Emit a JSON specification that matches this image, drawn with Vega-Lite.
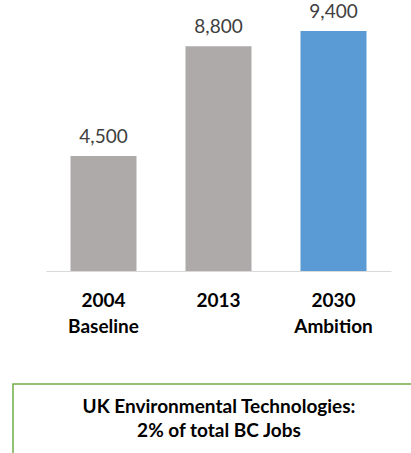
{
  "$schema": "https://vega.github.io/schema/vega-lite/v6.json",
  "padding": {"left": 12, "top": 0, "right": 0, "bottom": 0},
  "config": {"view": {"stroke": null}, "font": "Lato"},
  "spacing": 47,
  "vconcat": [
    {
      "width": 378,
      "height": 271,
      "data": {"values": [
        {"period": "2004|Baseline", "jobs": 4500, "kind": "actual"},
        {"period": "2013", "jobs": 8800, "kind": "actual"},
        {"period": "2030|Ambition", "jobs": 9400, "kind": "ambition"}
      ]},
      "encoding": {
        "x": {
          "field": "period", "type": "nominal", "sort": null,
          "scale": {"range": [33, 378], "paddingInner": 0.426, "paddingOuter": 0.213},
          "axis": {"title": null, "labelExpr": "split(datum.label, '|')", "labelAngle": 0, "labelFontSize": 19, "labelFontWeight": "bold", "labelColor": "#000000", "labelLineHeight": 26, "labelPadding": 20, "ticks": false, "domainColor": "#D9D9D9", "domainWidth": 1}
        },
        "y": {
          "field": "jobs", "type": "quantitative",
          "scale": {"domain": [0, 10615], "nice": false},
          "axis": null
        }
      },
      "layer": [
        {
          "mark": {"type": "bar"},
          "encoding": {"color": {"field": "kind", "type": "nominal", "scale": {"domain": ["actual", "ambition"], "range": ["#AEAAAA", "#5B9BD5"]}, "legend": null}}
        },
        {
          "mark": {"type": "text", "baseline": "alphabetic", "dy": -13, "fontSize": 19, "color": "#404040"},
          "encoding": {"text": {"field": "jobs", "type": "quantitative", "format": ","}}
        }
      ]
    },
    {
      "width": 412,
      "height": 71,
      "view": {"stroke": "#70AD47", "strokeWidth": 1.5},
      "data": {"values": [{"note": "UK Environmental Technologies:\n2% of total BC Jobs"}]},
      "mark": {"type": "text", "lineBreak": "\n", "fontSize": 19, "fontWeight": "bold", "lineHeight": 24, "baseline": "top", "dy": -22, "color": "#000000"},
      "encoding": {"text": {"field": "note"}}
    }
  ]
}
